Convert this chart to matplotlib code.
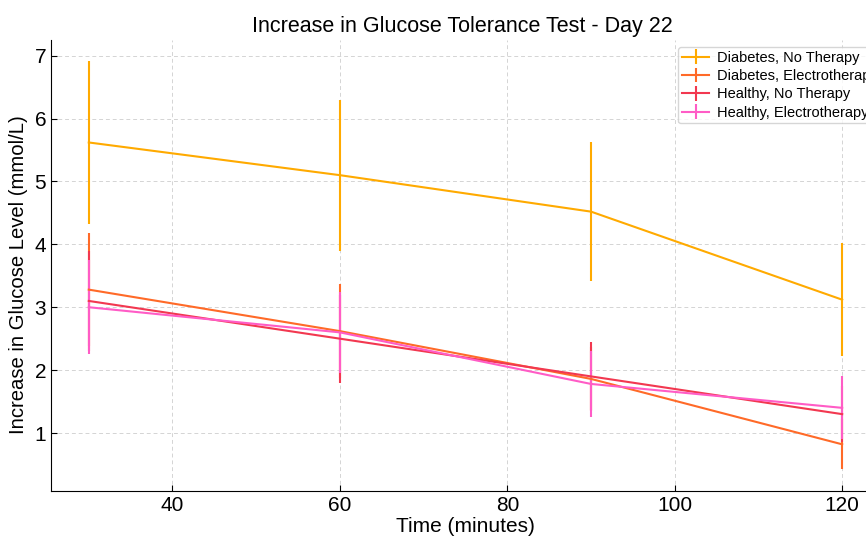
import matplotlib
matplotlib.use("Agg")
import matplotlib.pyplot as plt

plt.rcParams['font.family'] = ['Liberation Sans', 'DejaVu Sans']

time_min = [30, 60, 90, 120]

diab_no = [5.62, 5.10, 4.52, 3.12]
diab_no_err = [1.30, 1.20, 1.10, 0.90]

diab_el = [3.28, 2.62, 1.86, 0.82]
diab_el_err = [0.90, 0.75, 0.50, 0.40]

heal_no = [3.10, 2.50, 1.90, 1.30]
heal_no_err = [0.80, 0.70, 0.55, 0.45]

heal_el = [3.00, 2.60, 1.78, 1.40]
heal_el_err = [0.75, 0.65, 0.52, 0.50]

series = [
    ("Diabetes, No Therapy", diab_no, diab_no_err, "#FFAA00"),
    ("Diabetes, Electrotherapy", diab_el, diab_el_err, "#FF6A28"),
    ("Healthy, No Therapy", heal_no, heal_no_err, "#F23850"),
    ("Healthy, Electrotherapy", heal_el, heal_el_err, "#FF5CC6"),
]

fig = plt.figure(figsize=(8.66, 5.4), dpi=100)
ax = fig.add_axes([0.059, 0.091, 0.957, 0.835])

for label, vals, errs, col in series:
    ax.errorbar(time_min, vals, yerr=errs, color=col, linewidth=1.5,
                elinewidth=1.5, label=label)

ax.set_xlim(25.5, 124.5)
ax.set_ylim(0.08, 7.25)
ax.set_xticks([40, 60, 80, 100, 120])
ax.set_yticks([1, 2, 3, 4, 5, 6, 7])
ax.tick_params(direction='in', labelsize=15, length=4)
ax.grid(True, linestyle=(0, (4, 3)), color='#d4d4d4', linewidth=0.7)
ax.spines['top'].set_visible(False)
ax.spines['right'].set_visible(False)

ax.set_title("Increase in Glucose Tolerance Test - Day 22", fontsize=15.5, x=0.496)
ax.set_xlabel("Time (minutes)", fontsize=15, labelpad=2)
ax.set_ylabel("Increase in Glucose Level (mmol/L)", fontsize=14.6)
ax.yaxis.set_label_coords(-0.028, 0.48)
ax.legend(loc='upper left', bbox_to_anchor=(678 / 866, 1 - 47 / 540),
          bbox_transform=fig.transFigure, fontsize=10.5, handlelength=1.9,
          borderaxespad=0, labelspacing=0.3, borderpad=0.25, handletextpad=0.5)

fig.savefig("out.png", dpi=100)
